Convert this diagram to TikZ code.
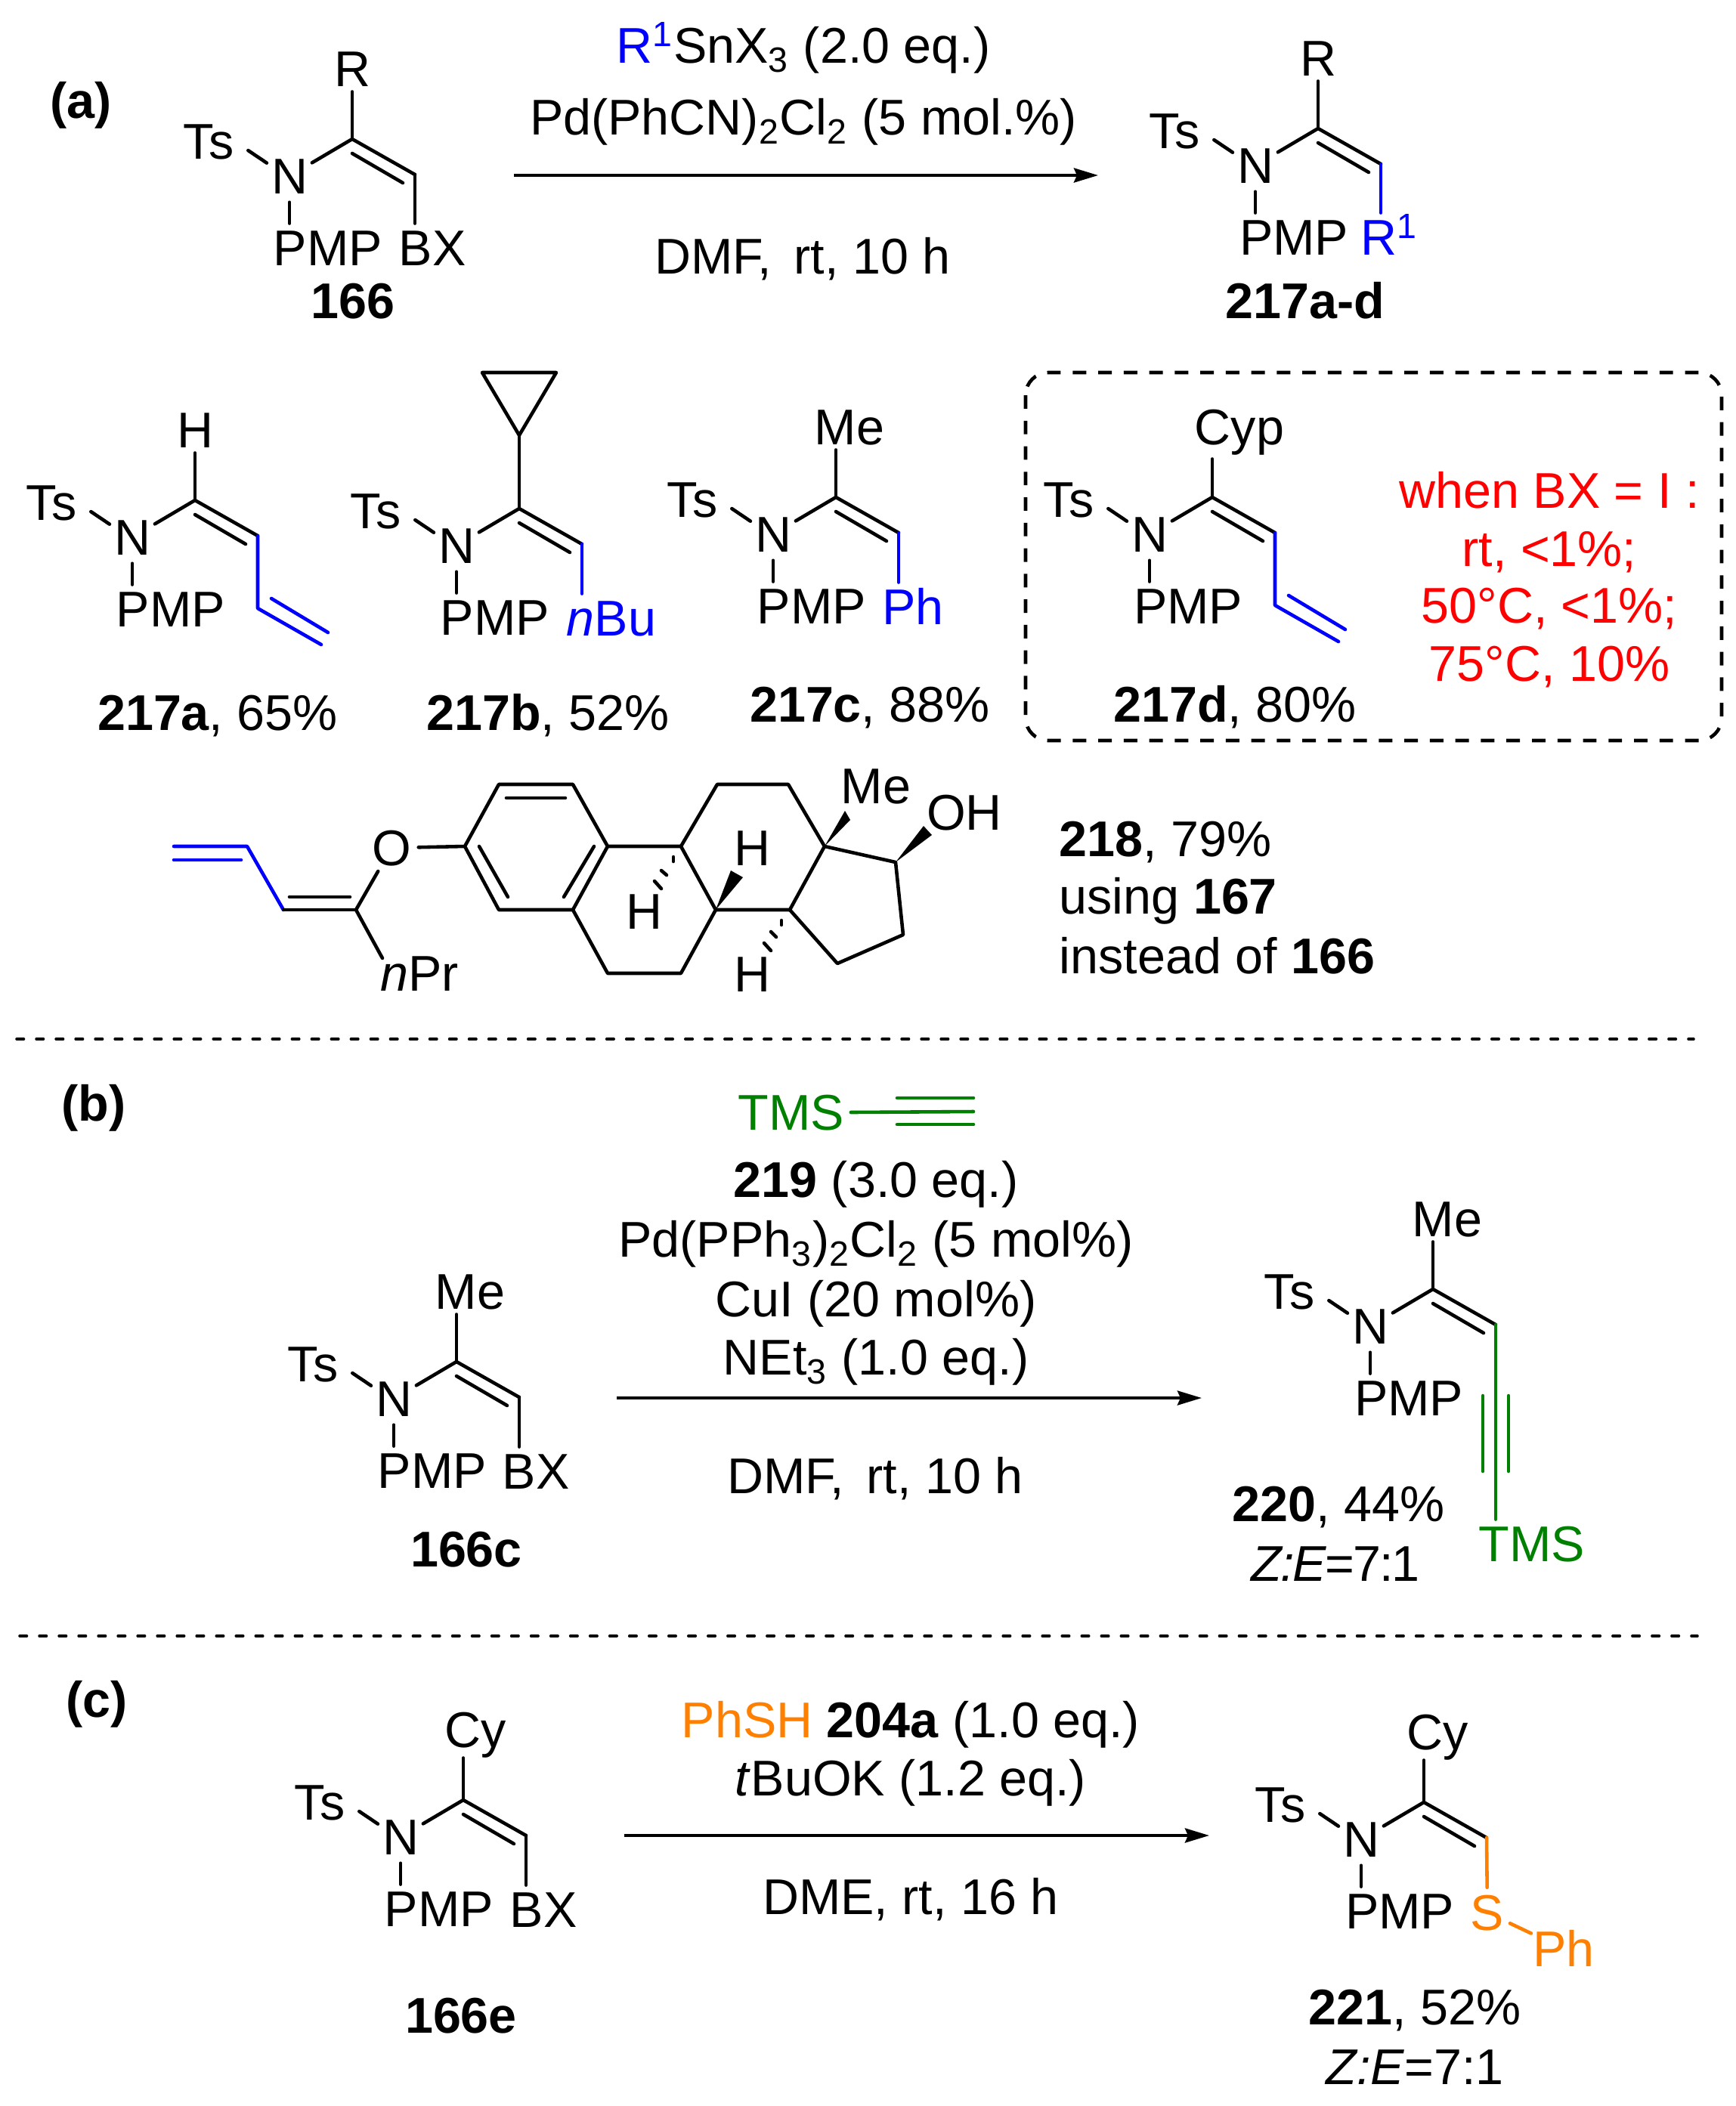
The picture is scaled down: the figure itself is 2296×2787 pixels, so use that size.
\documentclass[tikz,border=0pt]{standalone}
\usepackage{fontspec}
\setmainfont{Liberation Sans}
\usetikzlibrary{arrows.meta}
\definecolor{chemblue}{RGB}{0,0,255}
\definecolor{chemred}{RGB}{255,0,0}
\definecolor{chemgreen}{RGB}{0,128,0}
\definecolor{chemorange}{RGB}{255,128,0}
\tikzset{
	bond/.style={line width=1.3pt,line cap=round,line join=round},
	atom/.style={font=\fontsize{18.9}{22}\selectfont,inner sep=0pt,text height=13.5pt,text depth=0pt},
	ringatom/.style={atom,circle,minimum size=#1*0.01cm},
	boxatom/.style={atom,inner sep=#1*0.01cm},
	txt/.style={atom,align=center},
	rxnarrow/.style={line width=1.15pt,-{Stealth[length=3.2mm,width=1.9mm,inset=.4mm]}},
	sep/.style={line width=1pt,line cap=round,dash pattern=on 2.7pt off 4.7pt},
}
% name, position of the carbon, text on top, shift of that text
\newcommand{\enamine}[5][6]{
	\begin{scope}[shift={(#3)}]
		\coordinate (#2c1) at (0,0);
		\coordinate (#2c2) at (83,47);
		\node[ringatom=68] (#2n) at (-83,49) {N};
		\node[ringatom=106] (#2ts) at (-190,3) {Ts};
		\node[boxatom=8] (#2pmp) at (-32,144) {PMP};
		\node[boxatom=#1] (#2top) at (#5,-93) {#4};
		\draw[bond] (#2ts.-13) -- (#2n.150);
		\draw[bond] (#2n) -- (#2n |- #2pmp.north);
		\draw[bond] (#2n) -- (#2c1) -- (#2c2);
		\draw[bond] (#2c1) -- (#2c1 |- #2top.south);
		\draw[bond] ([shift={(0,19)}]#2c1) -- ([shift={(-16,11)}]#2c2); %inner line
	\end{scope}
}
% ending vinyl, from a carbon
\newcommand{\vinyl}[2]{
	\coordinate (#1v1) at ([shift={(0,96)}]#2);
	\coordinate (#1v2) at ([shift={(84,48)}]#1v1);
	\coordinate (#1v3) at ([shift={(18,-13)}]#1v1);
	\coordinate (#1v4) at ([shift={(93,32)}]#1v1);
	\draw[bond,chemblue] (#2) -- (#1v1) -- (#1v2);
	\draw[bond,chemblue] (#1v3) -- (#1v4);
}
\begin{document}
\begin{tikzpicture}[x=0.01cm,y=-0.01cm]
	\useasboundingbox (0,0) rectangle (2296,2787);
	% part a
	\node[txt] (laba) at (107,133) {\textbf{(a)}};
	\enamine{s}{466,184}{R}{0}
	\node[boxatom=8] (sbx) at (572,328) {BX};
	\draw[bond] (sc2) -- (sc2 |- sbx.north);
	\node[txt] (slab) at (467,398) {\textbf{166}};
	\coordinate (a1) at (680,232);
	\coordinate (a2) at (1453,232);
	\draw[rxnarrow] (a1) -- (a2);
	\node[txt] (ra1) at (1063,60) {\textcolor{chemblue}{R\textsuperscript{1}}SnX\textsubscript{3} (2.0 eq.)};
	\node[txt] (ra2) at (1063,155) {Pd(PhCN)\textsubscript{2}Cl\textsubscript{2} (5 mol.\%)};
	\node[txt] (ra3) at (1062,339) {DMF,\, rt, 10 h};
	\enamine{p}{1744,170}{R}{0}
	\node[boxatom=8,chemblue] (pr) at (1838,314) {R\textsuperscript{1}};
	\draw[bond,chemblue] (pc2) -- (pc2 |- pr.north);
	\node[txt] (plab) at (1727,398) {\textbf{217a-d}};
	% products
	\enamine{ea}{258,662}{H}{0}
	\vinyl{ea}{eac2}
	\node[txt] (ealab) at (288,943) {\textbf{217a}, 65\%};
	\enamine{eb}{687,673}{}{0}
	\coordinate (cp1) at (687,576);
	\coordinate (cp2) at (638,493);
	\coordinate (cp3) at (736,493);
	\draw[bond] (ebc1) -- (cp1);
	\draw[bond] (cp1) -- (cp2) -- (cp3) -- cycle; %cyclopropyl
	\node[boxatom=8,chemblue] (ebr) at (809,818) {\textit{n}Bu};
	\draw[bond,chemblue] (ebc2) -- (ebc2 |- ebr.north);
	\node[txt] (eblab) at (725,943) {\textbf{217b}, 52\%};
	\enamine{ec}{1106,658}{Me}{18}
	\node[boxatom=8,chemblue] (ecr) at (1208,803) {Ph};
	\draw[bond,chemblue] (ecc2) -- (ecc2 |- ecr.north);
	\node[txt] (eclab) at (1151,932) {\textbf{217c}, 88\%};
	\enamine[18]{ed}{1604,658}{Cyp}{36}
	\vinyl{ed}{edc2}
	\node[txt] (edlab) at (1634,932) {\textbf{217d}, 80\%};
	\node[txt,chemred] (w1) at (2050,649) {when BX = I :};
	\node[txt,chemred] (w2) at (2050,726) {rt, <1\%;};
	\node[txt,chemred] (w3) at (2050,801) {50°C, <1\%;};
	\node[txt,chemred] (w4) at (2050,878) {75°C, 10\%};
	\draw[bond,line cap=butt,dash pattern=on 5.1pt off 4.5pt,rounded corners=30*0.01cm] (1357,493) rectangle (2278,980); %box
	% steroid
	\coordinate (v0) at (230,1120);
	\coordinate (v1) at (327,1120);
	\coordinate (v2) at (375,1204);
	\coordinate (v3) at (471,1204);
	\coordinate (v4) at (230,1138);
	\coordinate (v5) at (319,1138);
	\coordinate (v6) at (383,1187);
	\coordinate (v7) at (463,1187);
	\coordinate (v8) at (506,1268);
	\node[ringatom=70] (ox) at (518,1122) {O};
	\node[atom] (npr) at (555,1288) {\textit{n}Pr};
	\draw[bond,chemblue] (v0) -- (v1) -- (v2);
	\draw[bond,chemblue] (v4) -- (v5);
	\draw[bond] (v2) -- (v3);
	\draw[bond] (v6) -- (v7);
	\draw[bond] (v3) -- (ox);
	\draw[bond] (v3) -- (v8);
	\coordinate (r1) at (615,1120);
	\coordinate (r2) at (660,1038);
	\coordinate (r3) at (758,1038);
	\coordinate (r4) at (804,1120);
	\coordinate (r5) at (758,1204);
	\coordinate (r6) at (660,1204);
	\coordinate (r7) at (901,1120);
	\coordinate (r8) at (947,1204);
	\coordinate (r9) at (901,1288);
	\coordinate (r10) at (804,1288);
	\coordinate (r11) at (949,1038);
	\coordinate (r12) at (1043,1038);
	\coordinate (r13) at (1091,1120);
	\coordinate (r14) at (1045,1204);
	\coordinate (r15) at (1185,1141);
	\coordinate (r16) at (1195,1237);
	\coordinate (r17) at (1108,1275);
	\draw[bond] (ox) -- (r1) -- (r2) -- (r3) -- (r4) -- (r5) -- (r6) -- (r1);
	\draw[bond] (r4) -- (r7) -- (r8) -- (r9) -- (r10) -- (r5);
	\draw[bond] (r7) -- (r11) -- (r12) -- (r13) -- (r14) -- (r8);
	\draw[bond] (r13) -- (r15) -- (r16) -- (r17) -- (r14);
	\draw[bond] (670,1056) -- (748,1056);
	\draw[bond] (634,1120) -- (672,1187);
	\draw[bond] (786,1120) -- (746,1187);
	\node[atom] (sme) at (1159,1040) {Me};
	\node[atom] (soh) at (1276,1075) {OH};
	\node[atom] (sh1) at (995,1122) {H};
	\node[atom] (sh2) at (852,1206) {H};
	\node[atom] (sh3) at (995,1289) {H};
	\fill (r13) -- (1118,1073) -- (1125,1085) -- cycle;
	\fill (r15) -- (1222,1093) -- (1233,1105) -- cycle;
	\fill (r8) -- (967,1152) -- (983,1161) -- cycle;
	\draw[bond] (891,1134) -- (891,1140);
	\draw[bond] (875,1152) -- (882,1158);
	\draw[bond] (866,1166) -- (875,1176);
	\draw[bond] (1034,1218) -- (1034,1224);
	\draw[bond] (1020,1233) -- (1027,1240);
	\draw[bond] (1011,1248) -- (1020,1258);
	\node[txt,anchor=west] (t1) at (1401,1110) {\textbf{218}, 79\%};
	\node[txt,anchor=west] (t2) at (1401,1186) {using \textbf{167}};
	\node[txt,anchor=west] (t3) at (1401,1265) {instead of \textbf{166}};
	\coordinate (d1) at (22,1375);
	\coordinate (d2) at (2241,1375);
	\draw[sep] (d1) -- (d2);
	% part b
	\node[txt] (labb) at (124,1460) {\textbf{(b)}};
	\node[atom,chemgreen] (tms) at (1047,1472) {TMS};
	\coordinate (tb1) at (1187,1453);
	\coordinate (te1) at (1288,1453);
	\coordinate (te) at (1288,1471);
	\coordinate (tb2) at (1187,1488);
	\coordinate (te2) at (1288,1488);
	\draw[bond,chemgreen] (tms.east) ++(8,0) -- (te);
	\draw[bond,chemgreen] (tb1) -- (te1);
	\draw[bond,chemgreen] (tb2) -- (te2);
	\node[txt] (rb1) at (1159,1561) {\textbf{219} (3.0 eq.)};
	\node[txt] (rb2) at (1159,1640) {Pd(PPh\textsubscript{3})\textsubscript{2}Cl\textsubscript{2} (5 mol\%)};
	\node[txt] (rb3) at (1159,1719) {CuI (20 mol\%)};
	\node[txt] (rb4) at (1159,1796) {NEt\textsubscript{3} (1.0 eq.)};
	\node[txt] (rb5) at (1158,1953) {DMF,\, rt, 10 h};
	\coordinate (b1) at (816,1850);
	\coordinate (b2) at (1590,1850);
	\draw[rxnarrow] (b1) -- (b2);
	\enamine{q}{604,1802}{Me}{18}
	\node[boxatom=8] (qbx) at (709,1947) {BX};
	\draw[bond] (qc2) -- (qc2 |- qbx.north);
	\node[txt] (qlab) at (617,2050) {\textbf{166c}};
	\enamine{u}{1896,1706}{Me}{19}
	\node[boxatom=8,chemgreen] (utms) at (2027,2043) {TMS};
	\draw[bond,chemgreen] (uc2) -- (uc2 |- utms.north);
	\coordinate (ut1) at (1962,1847);
	\coordinate (ut2) at (1962,1947);
	\coordinate (ut3) at (1996,1847);
	\coordinate (ut4) at (1996,1947);
	\draw[bond,chemgreen] (ut1) -- (ut2);
	\draw[bond,chemgreen] (ut3) -- (ut4);
	\node[txt] (ulab) at (1771,1990) {\textbf{220}, 44\%};
	\node[txt] (uze) at (1767,2069) {\textit{Z\kern-.6pt:\kern-.6pt E}\kern-.6pt=\kern-.6pt 7\kern-.6pt:\kern-.6pt 1};
	\coordinate (d3) at (26,2165);
	\coordinate (d4) at (2246,2165);
	\draw[sep] (d3) -- (d4);
	% part c
	\node[txt] (labc) at (128,2249) {\textbf{(c)}};
	\enamine[13]{w}{613,2382}{Cy}{16}
	\node[boxatom=8] (wbx) at (719,2527) {BX};
	\draw[bond] (wc2) -- (wc2 |- wbx.north);
	\node[txt] (wlab) at (610,2667) {\textbf{166e}};
	\node[txt] (rc1) at (1205,2276) {\textcolor{chemorange}{PhSH} \textbf{204a} (1.0 eq.)};
	\node[txt] (rc2) at (1205,2353) {\textit{t}BuOK (1.2 eq.)};
	\node[txt] (rc3) at (1205,2510) {DME, rt, 16 h};
	\coordinate (c1) at (826,2429);
	\coordinate (c2) at (1600,2429);
	\draw[rxnarrow] (c1) -- (c2);
	\enamine[13]{y}{1884,2385}{Cy}{18}
	\node[ringatom=60,chemorange] (ys) at (1968,2531) {S};
	\node[ringatom=82,chemorange] (yph) at (2069,2579) {Ph};
	\draw[bond,chemorange] (yc2) -- (ys);
	\draw[bond,chemorange] (ys) -- (yph);
	\node[txt] (ylab) at (1872,2656) {\textbf{221}, 52\%};
	\node[txt] (yze) at (1872,2735) {\textit{Z:E}=7:1};
\end{tikzpicture}
\end{document}
